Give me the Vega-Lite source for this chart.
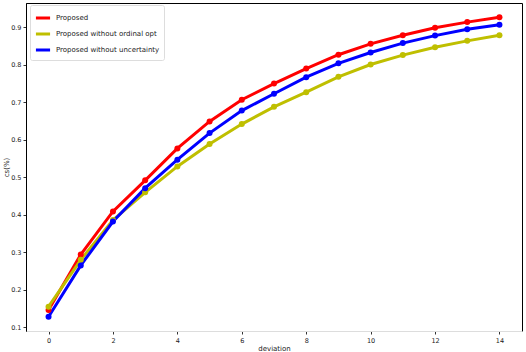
{
  "$schema": "https://vega.github.io/schema/vega-lite/v6.json",
  "width": 496,
  "height": 328,
  "autosize": {"type": "none"},
  "padding": {"left": 26, "top": 3, "right": 4, "bottom": 21},
  "background": "white",
  "config": {
    "view": {"stroke": "black", "strokeWidth": 1},
    "font": "DejaVu Sans",
    "axis": {"grid": false, "labelFontSize": 6.5, "labelColor": "#222", "tickColor": "#333", "tickSize": 3, "titleFontSize": 7, "titleFontWeight": "normal", "titleColor": "#222"}
  },
  "data": {
    "values": [
      {"x": 0, "s": "Proposed", "y": 0.146},
      {"x": 1, "s": "Proposed", "y": 0.294},
      {"x": 2, "s": "Proposed", "y": 0.409},
      {"x": 3, "s": "Proposed", "y": 0.492},
      {"x": 4, "s": "Proposed", "y": 0.577},
      {"x": 5, "s": "Proposed", "y": 0.649},
      {"x": 6, "s": "Proposed", "y": 0.707},
      {"x": 7, "s": "Proposed", "y": 0.75},
      {"x": 8, "s": "Proposed", "y": 0.79},
      {"x": 9, "s": "Proposed", "y": 0.827},
      {"x": 10, "s": "Proposed", "y": 0.856},
      {"x": 11, "s": "Proposed", "y": 0.879},
      {"x": 12, "s": "Proposed", "y": 0.899},
      {"x": 13, "s": "Proposed", "y": 0.914},
      {"x": 14, "s": "Proposed", "y": 0.927},
      {"x": 0, "s": "Proposed without ordinal opt", "y": 0.155},
      {"x": 1, "s": "Proposed without ordinal opt", "y": 0.28},
      {"x": 2, "s": "Proposed without ordinal opt", "y": 0.386},
      {"x": 3, "s": "Proposed without ordinal opt", "y": 0.46},
      {"x": 4, "s": "Proposed without ordinal opt", "y": 0.529},
      {"x": 5, "s": "Proposed without ordinal opt", "y": 0.589},
      {"x": 6, "s": "Proposed without ordinal opt", "y": 0.642},
      {"x": 7, "s": "Proposed without ordinal opt", "y": 0.688},
      {"x": 8, "s": "Proposed without ordinal opt", "y": 0.727},
      {"x": 9, "s": "Proposed without ordinal opt", "y": 0.768},
      {"x": 10, "s": "Proposed without ordinal opt", "y": 0.801},
      {"x": 11, "s": "Proposed without ordinal opt", "y": 0.826},
      {"x": 12, "s": "Proposed without ordinal opt", "y": 0.847},
      {"x": 13, "s": "Proposed without ordinal opt", "y": 0.864},
      {"x": 14, "s": "Proposed without ordinal opt", "y": 0.879},
      {"x": 0, "s": "Proposed without uncertainty", "y": 0.128},
      {"x": 1, "s": "Proposed without uncertainty", "y": 0.265},
      {"x": 2, "s": "Proposed without uncertainty", "y": 0.382},
      {"x": 3, "s": "Proposed without uncertainty", "y": 0.471},
      {"x": 4, "s": "Proposed without uncertainty", "y": 0.547},
      {"x": 5, "s": "Proposed without uncertainty", "y": 0.618},
      {"x": 6, "s": "Proposed without uncertainty", "y": 0.678},
      {"x": 7, "s": "Proposed without uncertainty", "y": 0.723},
      {"x": 8, "s": "Proposed without uncertainty", "y": 0.767},
      {"x": 9, "s": "Proposed without uncertainty", "y": 0.804},
      {"x": 10, "s": "Proposed without uncertainty", "y": 0.833},
      {"x": 11, "s": "Proposed without uncertainty", "y": 0.858},
      {"x": 12, "s": "Proposed without uncertainty", "y": 0.878},
      {"x": 13, "s": "Proposed without uncertainty", "y": 0.895},
      {"x": 14, "s": "Proposed without uncertainty", "y": 0.907}
    ]
  },
  "mark": {"type": "line", "strokeWidth": 3, "point": {"filled": true, "size": 36, "opacity": 1}},
  "encoding": {
    "x": {"field": "x", "type": "quantitative", "title": "deviation",
      "scale": {"domain": [-0.7, 14.7], "nice": false, "zero": false},
      "axis": {"values": [0, 2, 4, 6, 8, 10, 12, 14], "domainColor": "#ddd", "titlePadding": 1, "labelPadding": 3}},
    "y": {"field": "y", "type": "quantitative", "title": "cs(%)",
      "scale": {"domain": [0.09, 0.965], "nice": false, "zero": false},
      "axis": {"values": [0.1, 0.2, 0.3, 0.4, 0.5, 0.6, 0.7, 0.8, 0.9], "format": ".1f", "domainColor": "black", "titlePadding": 1, "labelPadding": 2}},
    "color": {"field": "s", "type": "nominal",
      "scale": {"domain": ["Proposed", "Proposed without ordinal opt", "Proposed without uncertainty"], "range": ["#ff0000", "#bfbf00", "#0000ff"]},
      "legend": {"title": null, "orient": "none", "legendX": 4, "legendY": 2, "symbolType": "stroke", "symbolStrokeWidth": 3, "symbolSize": 200, "labelFontSize": 7, "labelColor": "#222", "rowPadding": 1, "padding": 4, "fillColor": "white", "strokeColor": "#ddd", "cornerRadius": 2}}
  }
}
